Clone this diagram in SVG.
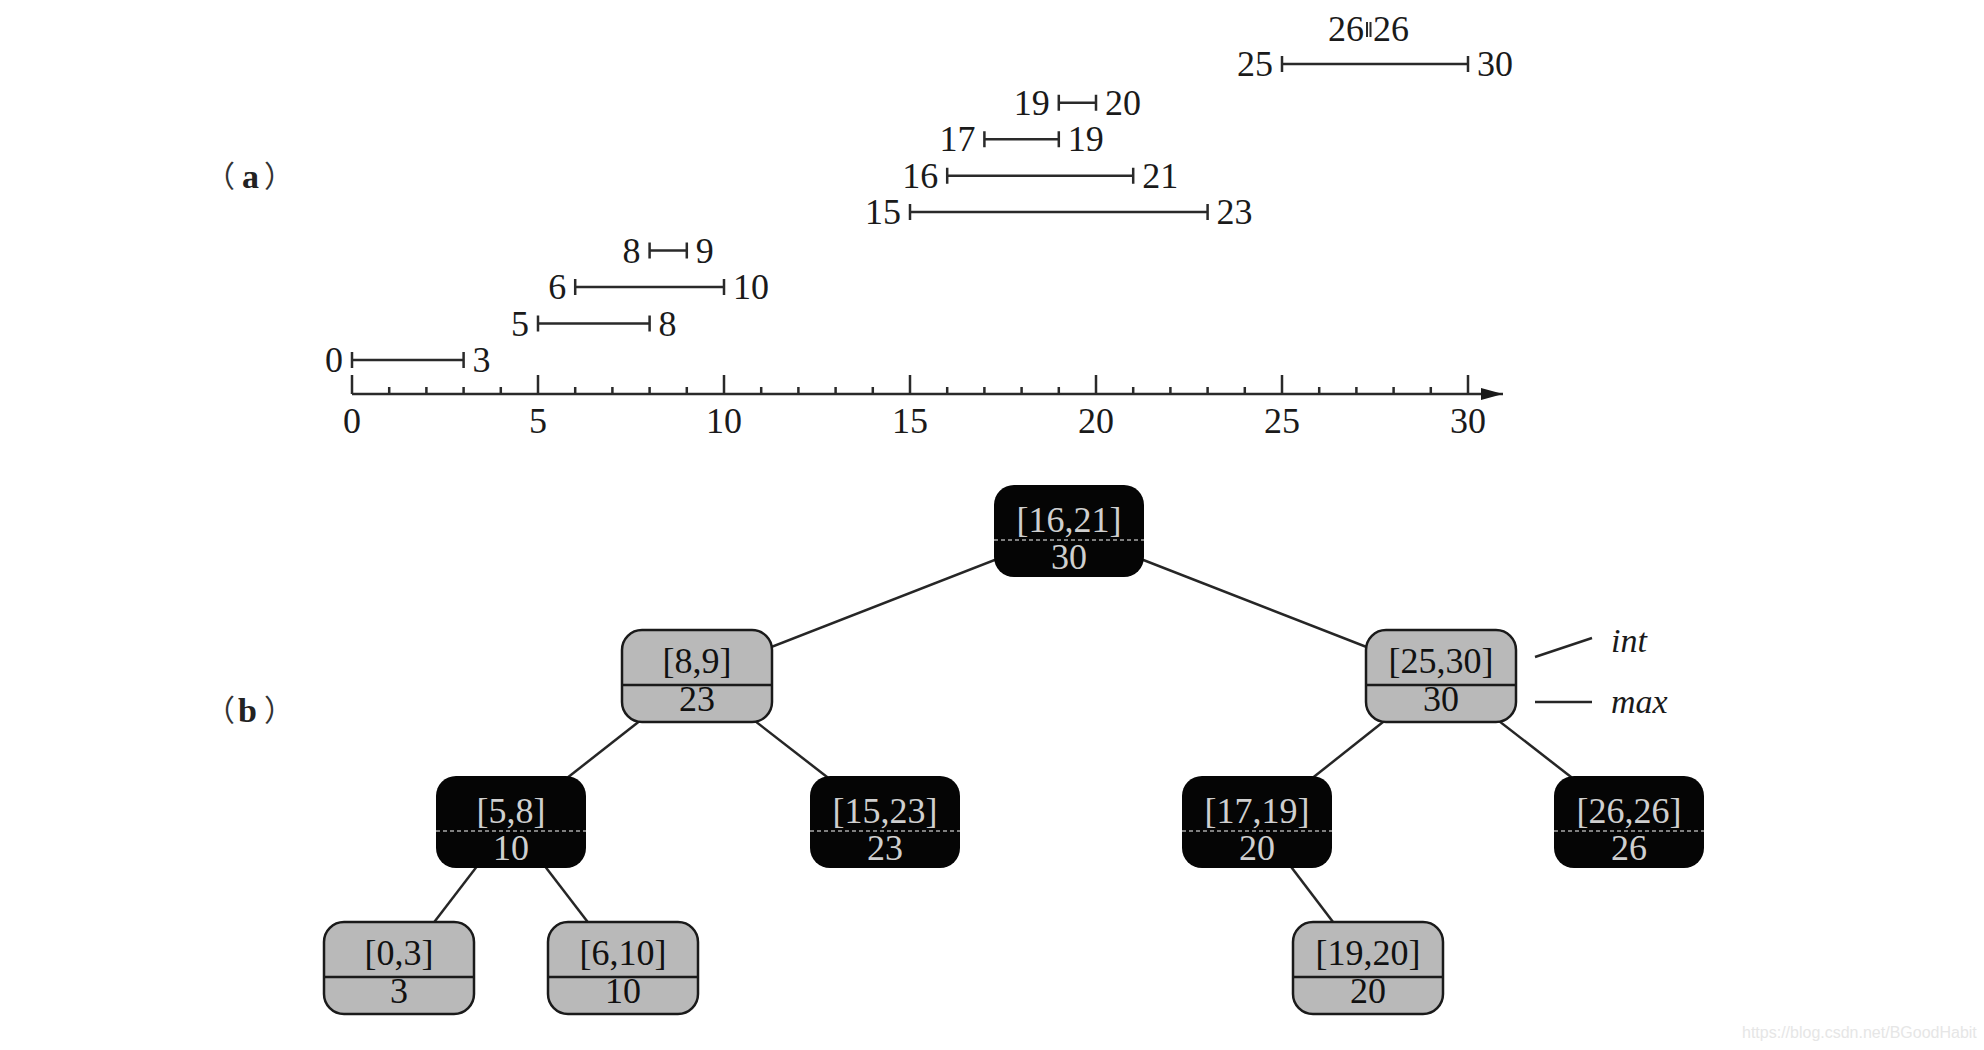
<svg xmlns="http://www.w3.org/2000/svg" width="1984" height="1050" viewBox="0 0 1984 1050">
<defs>
<style>
.iv{stroke:#2a2a2a;stroke-width:2.5;fill:none}
.num{font-family:"Liberation Serif","Times New Roman",serif;font-size:36px;fill:#1a1a1a}
.end{text-anchor:end}
.ax{font-family:"Liberation Serif","Times New Roman",serif;font-size:36px;fill:#1a1a1a;text-anchor:middle}
.tick{stroke:#2a2a2a;stroke-width:2.5;fill:none}
.edge{stroke:#262626;stroke-width:2.5}
.nb rect{fill:#050505}
.nb .dv{stroke:#a8a8a8;stroke-width:1.5;stroke-dasharray:4 3}
.nb text{fill:#cfcfcf}
.ng rect{fill:#b9b9b9;stroke:#1a1a1a;stroke-width:2.5}
.ng .dv{stroke:#1a1a1a;stroke-width:2.5}
.ng text{fill:#111}
.nt{font-family:"Liberation Serif","Times New Roman",serif;font-size:36px;text-anchor:middle}
.it{font-family:"Liberation Serif","Times New Roman",serif;font-size:34px;font-style:italic;fill:#1a1a1a}
.cjk{font-family:"Noto Sans CJK SC",sans-serif;font-size:30px;fill:#333}
.lt{font-family:"Liberation Serif","Times New Roman",serif;font-size:34px;font-weight:bold;fill:#222}
.wm{font-family:"Liberation Sans",Arial,sans-serif;font-size:16px;fill:#e6e6e6}
</style>
<marker id="arr" markerUnits="userSpaceOnUse" markerWidth="22" markerHeight="12" refX="22" refY="6" orient="auto">
<path d="M0,0 L22,6 L0,12 z" fill="#1a1a1a"/>
</marker>
</defs>
<rect width="1984" height="1050" fill="#ffffff"/>

<!-- part labels -->
<text id="label-a"><tspan x="205" y="187" class="cjk">（</tspan><tspan x="242" y="188" class="lt">a</tspan><tspan x="264" y="187" class="cjk">）</tspan></text>
<text id="label-b"><tspan x="205" y="721" class="cjk">（</tspan><tspan x="238" y="722" class="lt">b</tspan><tspan x="264" y="721" class="cjk">）</tspan></text>

<!-- (a) number line -->
<g id="axis">
<line x1="352" y1="394" x2="1503" y2="394" class="tick" marker-end="url(#arr)"/>
<path class="tick" d="M352,375V394 M538,375V394 M724,375V394 M910,375V394 M1096,375V394 M1282,375V394 M1468,375V394"/>
<path class="tick" d="M389.2,387V394 M426.4,387V394 M463.6,387V394 M500.8,387V394 M575.2,387V394 M612.4,387V394 M649.6,387V394 M686.8,387V394 M761.2,387V394 M798.4,387V394 M835.6,387V394 M872.8,387V394 M947.2,387V394 M984.4,387V394 M1021.6,387V394 M1058.8,387V394 M1133.2,387V394 M1170.4,387V394 M1207.6,387V394 M1244.8,387V394 M1319.2,387V394 M1356.4,387V394 M1393.6,387V394 M1430.8,387V394"/>
<text class="ax" x="352" y="433">0</text>
<text class="ax" x="538" y="433">5</text>
<text class="ax" x="724" y="433">10</text>
<text class="ax" x="910" y="433">15</text>
<text class="ax" x="1096" y="433">20</text>
<text class="ax" x="1282" y="433">25</text>
<text class="ax" x="1468" y="433">30</text>
</g>

<g id="intervals">
<g id="iv-0-3"><path class="iv" d="M352,360H463.6 M352,352V368 M463.6,352V368"/><text class="num end" x="343" y="372">0</text><text class="num" x="472.6" y="372">3</text></g>
<g id="iv-5-8"><path class="iv" d="M538,323.5H649.6 M538,315.5V331.5 M649.6,315.5V331.5"/><text class="num end" x="529" y="335.5">5</text><text class="num" x="658.6" y="335.5">8</text></g>
<g id="iv-6-10"><path class="iv" d="M575.2,287H724 M575.2,279V295 M724,279V295"/><text class="num end" x="566.2" y="299">6</text><text class="num" x="733" y="299">10</text></g>
<g id="iv-8-9"><path class="iv" d="M649.6,250.5H686.8 M649.6,242.5V258.5 M686.8,242.5V258.5"/><text class="num end" x="640.6" y="262.5">8</text><text class="num" x="695.8" y="262.5">9</text></g>
<g id="iv-15-23"><path class="iv" d="M910,212H1207.6 M910,204V220 M1207.6,204V220"/><text class="num end" x="901" y="224">15</text><text class="num" x="1216.6" y="224">23</text></g>
<g id="iv-16-21"><path class="iv" d="M947.2,175.7H1133.2 M947.2,167.7V183.7 M1133.2,167.7V183.7"/><text class="num end" x="938.2" y="187.7">16</text><text class="num" x="1142.2" y="187.7">21</text></g>
<g id="iv-17-19"><path class="iv" d="M984.4,139.3H1058.8 M984.4,131.3V147.3 M1058.8,131.3V147.3"/><text class="num end" x="975.4" y="151.3">17</text><text class="num" x="1067.8" y="151.3">19</text></g>
<g id="iv-19-20"><path class="iv" d="M1058.8,102.7H1096 M1058.8,94.7V110.7 M1096,94.7V110.7"/><text class="num end" x="1049.8" y="114.7">19</text><text class="num" x="1105" y="114.7">20</text></g>
<g id="iv-25-30"><path class="iv" d="M1282,64H1468 M1282,56V72 M1468,56V72"/><text class="num end" x="1273" y="76">25</text><text class="num" x="1477" y="76">30</text></g>
<g id="iv-26-26"><path class="iv" style="stroke-width:2" d="M1367,22V37 M1370.5,22V37"/><text class="num end" x="1364" y="41">26</text><text class="num" x="1373" y="41">26</text></g>
</g>

<!-- (b) tree connectors -->
<g id="connectors">
<line class="edge" x1="1069" y1="531" x2="697" y2="676"/>
<line class="edge" x1="1069" y1="531" x2="1441" y2="676"/>
<line class="edge" x1="697" y1="676" x2="511" y2="822"/>
<line class="edge" x1="697" y1="676" x2="885" y2="822"/>
<line class="edge" x1="1441" y1="676" x2="1257" y2="822"/>
<line class="edge" x1="1441" y1="676" x2="1629" y2="822"/>
<line class="edge" x1="511" y1="822" x2="399" y2="968"/>
<line class="edge" x1="511" y1="822" x2="623" y2="968"/>
<line class="edge" x1="1257" y1="822" x2="1368" y2="968"/>
<line class="edge" x1="1535" y1="657" x2="1592" y2="638"/>
<line class="edge" x1="1535" y1="702" x2="1592" y2="702"/>
</g>

<g id="node-16-21" class="nb" transform="translate(994,485)"><rect width="150" height="92" rx="20"/><line class="dv" x1="0" y1="55" x2="150" y2="55"/><text class="nt" x="75" y="47">[16,21]</text><text class="nt" x="75" y="84">30</text></g>
<g id="node-8-9" class="ng" transform="translate(622,630)"><rect width="150" height="92" rx="20"/><line class="dv" x1="0" y1="55" x2="150" y2="55"/><text class="nt" x="75" y="43">[8,9]</text><text class="nt" x="75" y="81">23</text></g>
<g id="node-25-30" class="ng" transform="translate(1366,630)"><rect width="150" height="92" rx="20"/><line class="dv" x1="0" y1="55" x2="150" y2="55"/><text class="nt" x="75" y="43">[25,30]</text><text class="nt" x="75" y="81">30</text></g>
<g id="node-5-8" class="nb" transform="translate(436,776)"><rect width="150" height="92" rx="20"/><line class="dv" x1="0" y1="55" x2="150" y2="55"/><text class="nt" x="75" y="47">[5,8]</text><text class="nt" x="75" y="84">10</text></g>
<g id="node-15-23" class="nb" transform="translate(810,776)"><rect width="150" height="92" rx="20"/><line class="dv" x1="0" y1="55" x2="150" y2="55"/><text class="nt" x="75" y="47">[15,23]</text><text class="nt" x="75" y="84">23</text></g>
<g id="node-17-19" class="nb" transform="translate(1182,776)"><rect width="150" height="92" rx="20"/><line class="dv" x1="0" y1="55" x2="150" y2="55"/><text class="nt" x="75" y="47">[17,19]</text><text class="nt" x="75" y="84">20</text></g>
<g id="node-26-26" class="nb" transform="translate(1554,776)"><rect width="150" height="92" rx="20"/><line class="dv" x1="0" y1="55" x2="150" y2="55"/><text class="nt" x="75" y="47">[26,26]</text><text class="nt" x="75" y="84">26</text></g>
<g id="node-0-3" class="ng" transform="translate(324,922)"><rect width="150" height="92" rx="20"/><line class="dv" x1="0" y1="55" x2="150" y2="55"/><text class="nt" x="75" y="43">[0,3]</text><text class="nt" x="75" y="81">3</text></g>
<g id="node-6-10" class="ng" transform="translate(548,922)"><rect width="150" height="92" rx="20"/><line class="dv" x1="0" y1="55" x2="150" y2="55"/><text class="nt" x="75" y="43">[6,10]</text><text class="nt" x="75" y="81">10</text></g>
<g id="node-19-20" class="ng" transform="translate(1293,922)"><rect width="150" height="92" rx="20"/><line class="dv" x1="0" y1="55" x2="150" y2="55"/><text class="nt" x="75" y="43">[19,20]</text><text class="nt" x="75" y="81">20</text></g>

<g id="legend">
<text class="it" x="1611" y="652">int</text>
<text class="it" x="1611" y="713">max</text>
</g>

<text class="wm" x="1742" y="1038">https://blog.csdn.net/BGoodHabit</text>
</svg>
